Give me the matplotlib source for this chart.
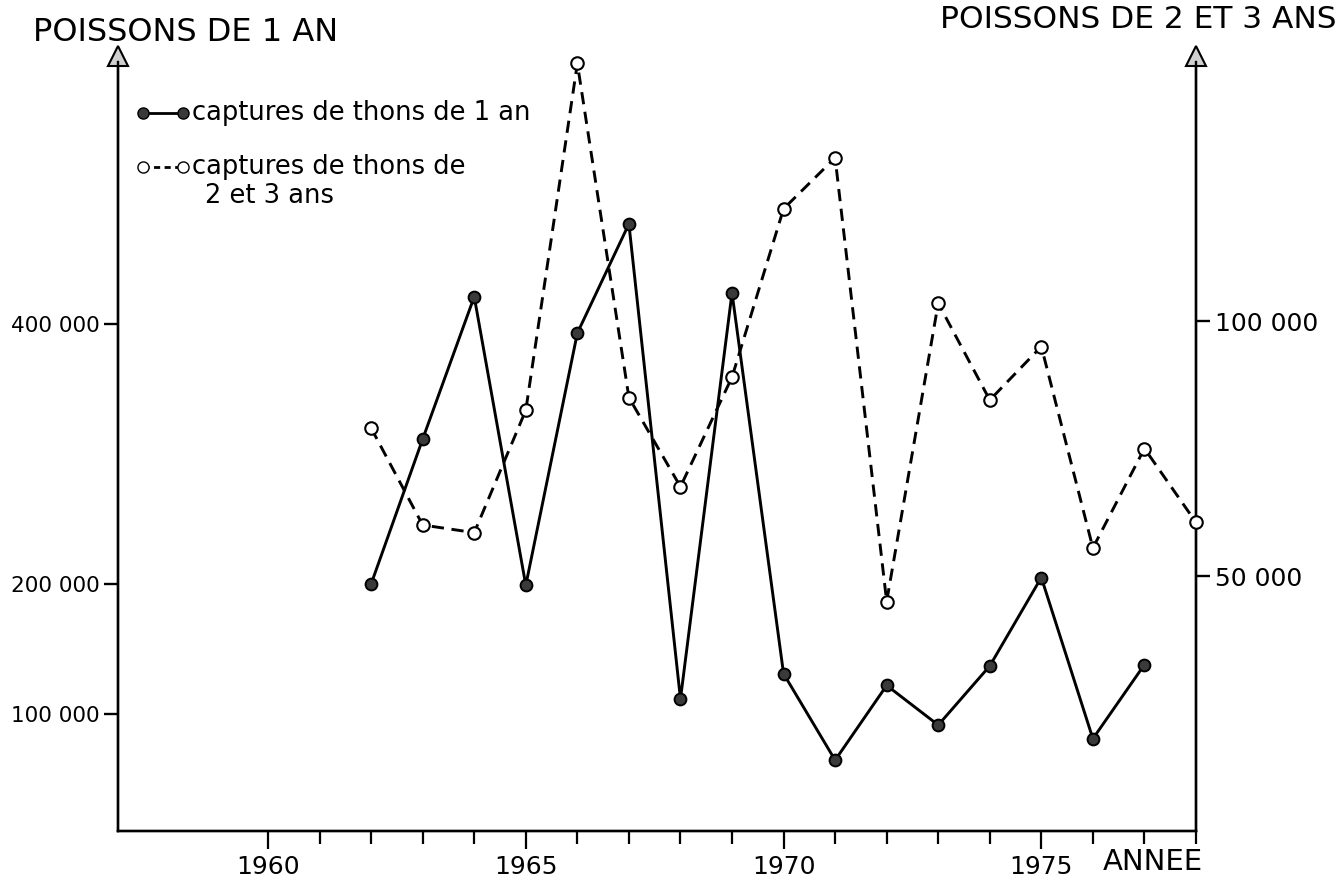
import matplotlib
matplotlib.use("Agg")
import matplotlib.pyplot as plt
from matplotlib.ticker import FixedLocator

plt.rcParams['font.family'] = ['DejaVu Sans']

# ---- data ----
years_1an = [1962, 1963, 1964, 1965, 1966, 1967, 1968, 1969, 1970,
             1971, 1972, 1973, 1974, 1975, 1976, 1977]
captures_1an = [200000, 311500, 421000, 199000, 393000, 477000, 111500, 424000,
                131000, 64500, 122000, 91500, 137000, 205000, 81000, 138000]

years_23ans = [1962, 1963, 1964, 1965, 1966, 1967, 1968, 1969, 1970,
               1971, 1972, 1973, 1974, 1975, 1976, 1977, 1978]
captures_23ans = [79000, 60000, 58500, 82500, 150500, 85000, 67500, 89000, 122000,
                  132000, 45000, 103500, 84500, 95000, 55500, 75000, 60500]

left_ticks = [100000, 200000, 400000]
left_ticklabels = ["100 000", "200 000", "400 000"]
right_ticks = [50000, 100000]
right_ticklabels = ["50 000", "100 000"]
x_major = [1960, 1965, 1970, 1975]
x_minor = [1961, 1962, 1963, 1964, 1966, 1967, 1968, 1969, 1971, 1972,
           1973, 1974, 1976, 1977, 1978]

title_left = "POISSONS DE 1 AN"
title_right = "POISSONS DE 2 ET 3 ANS"
xlabel = "ANNEE"
legend_1 = "captures de thons de 1 an"
legend_2a = "captures de thons de"
legend_2b = "2 et 3 ans"

# ---- figure ----
W, H = 1342, 892
fig = plt.figure(figsize=(W / 100, H / 100), dpi=100)
ax = fig.add_axes([118 / W, (H - 831) / H, 1078 / W, (831 - 62) / H])
ax2 = ax.twinx()

ax.set_xlim(1957.09, 1978)
ax.set_ylim(10015, 601530)
ax2.set_ylim(0, 150785)

lw_spine = 1.7
for a in (ax, ax2):
    a.spines['top'].set_visible(False)
    for s in ('left', 'right', 'bottom'):
        a.spines[s].set_linewidth(lw_spine)
        a.spines[s].set_color('black')
    a.patch.set_visible(False)

# series
ax.plot(years_1an, captures_1an, color='black', lw=2.1, zorder=3,
        marker='o', markersize=8.5, markerfacecolor='#3a3a3a',
        markeredgecolor='black', markeredgewidth=1.4)
ax2.plot(years_23ans, captures_23ans, color='black', lw=2.1, zorder=3,
         linestyle=(0, (4.2, 2.6)),
         marker='o', markersize=9, markerfacecolor='white',
         markeredgecolor='black', markeredgewidth=1.5, clip_on=False)

# ticks
ax.xaxis.set_major_locator(FixedLocator(x_major))
ax.xaxis.set_minor_locator(FixedLocator(x_minor))
ax.tick_params(axis='x', which='major', direction='out', length=13, width=1.6,
               labelsize=18, pad=4)
ax.tick_params(axis='x', which='minor', direction='out', length=9, width=1.6)
ax.set_yticks(left_ticks)
ax.set_yticklabels(left_ticklabels)
ax.tick_params(axis='y', direction='out', length=10, width=1.7, labelsize=15.5, pad=3)
ax2.set_yticks(right_ticks)
ax2.set_yticklabels(right_ticklabels)
ax2.tick_params(axis='y', direction='out', length=10, width=1.7, labelsize=18, pad=4)

# arrows at the top of the vertical axes
for xf in (0.0, 1.0):
    ax.plot([xf], [1.0 + 6 / 769], marker='^', markersize=15,
            markerfacecolor='#d0d0d0', markeredgecolor='black',
            markeredgewidth=1.5, transform=ax.transAxes, clip_on=False, zorder=5)

# titles
fig.text(33 / W, 1 - 41 / H, title_left, fontsize=23, ha='left', va='baseline')
fig.text(1336 / W, 1 - 28 / H, title_right, fontsize=22.5, ha='right', va='baseline')
ax.text(1.006, -0.022, xlabel, transform=ax.transAxes, fontsize=21,
        ha='right', va='top')

# legend (hand drawn like the original)
def lx(px):
    return (px - 118) / 1078

def ly(py):
    return (831 - py) / 769

ax.plot([lx(143), lx(183)], [ly(113), ly(113)], color='black', lw=2.0,
        marker='o', markersize=8, markerfacecolor='#3a3a3a',
        markeredgecolor='black', transform=ax.transAxes, clip_on=False)
ax.text(lx(192), ly(113), legend_1, transform=ax.transAxes, fontsize=18.5,
        ha='left', va='center')
ax.plot([lx(143), lx(183)], [ly(167), ly(167)], color='black', lw=2.0,
        linestyle=(0, (2.2, 1.6)),
        marker='o', markersize=8, markerfacecolor='white',
        markeredgecolor='black', transform=ax.transAxes, clip_on=False)
ax.text(lx(192), ly(167), legend_2a, transform=ax.transAxes, fontsize=18.5,
        ha='left', va='center')
ax.text(lx(205), ly(196), legend_2b, transform=ax.transAxes, fontsize=18.5,
        ha='left', va='center')

fig.savefig("out.png", dpi=100)
